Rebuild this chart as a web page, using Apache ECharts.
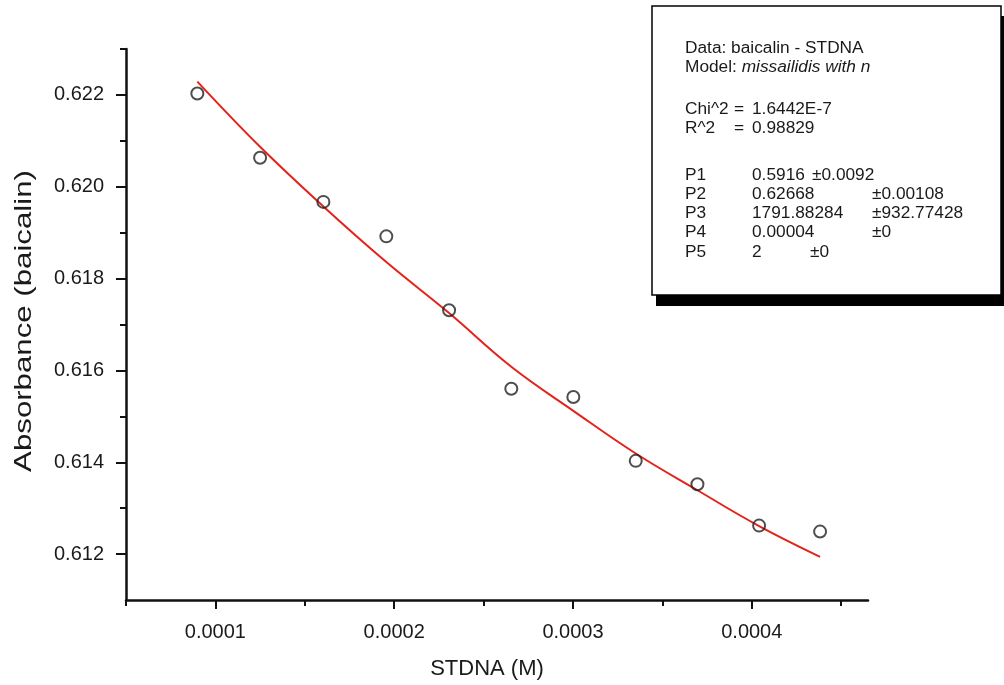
<!DOCTYPE html>
<html>
<head>
<meta charset="utf-8">
<script src="https://cdn.jsdelivr.net/npm/echarts@6/dist/echarts.min.js"></script>
<style>
  html, body { margin: 0; padding: 0; background: #ffffff; }
  #chart { width: 1004px; height: 685px; }
</style>
</head>
<body>
<div id="chart"></div>
<script>
// ---- data ----
const xData = [0.0000899, 0.000125, 0.0001604, 0.0001956, 0.0002307, 0.0002655, 0.0003002, 0.0003351, 0.0003696, 0.0004041, 0.0004382];
const yData = [0.62203, 0.62063, 0.61967, 0.61892, 0.61731, 0.61560, 0.61542, 0.61403, 0.61352, 0.61262, 0.61249];
const fitY  = [0.62229, 0.62087, 0.61957, 0.61836, 0.61725, 0.61608, 0.61512, 0.61419, 0.61339, 0.61261, 0.61194];

const xMajorTicks = [0.0001, 0.0002, 0.0003, 0.0004];
const xMinorTicks = [0.00005, 0.00015, 0.00025, 0.00035, 0.00045];
const yMajorTicks = [0.612, 0.614, 0.616, 0.618, 0.620, 0.622];
const yMinorTicks = [0.613, 0.615, 0.617, 0.619, 0.621, 0.623];

const xTitle = 'STDNA (M)';
const yTitle = 'Absorbance (baicalin)';

const boxHeader = ['Data: baicalin - STDNA', 'Model: '];
const boxModelItalic = 'missailidis with n';
const statNames = ['Chi^2', 'R^2'];
const statValues = ['1.6442E-7', '0.98829'];
const boxCol1 = ['P1', 'P2', 'P3', 'P4', 'P5'];
const boxCol2 = ['0.5916', '0.62668', '1791.88284', '0.00004', '2'];
const boxCol3 = ['±0.0092', '±0.00108', '±932.77428', '±0', '±0'];

// ---- chart ----
const chart = echarts.init(document.getElementById('chart'), null, { renderer: 'canvas' });

const scatterData = xData.map((x, i) => [x, yData[i]]);
const fitData = xData.map((x, i) => [x, fitY[i]]);

const FONT = '"Liberation Sans", Arial, Helvetica, sans-serif';
const INK = '#1a1a1a';
const BOX_FONT = 16;

function boxText(str, x, y, italicPart) {
  const el = {
    type: 'text',
    x: x, y: y,
    scaleX: 1.08,
    z: 20,
    style: {
      text: str,
      font: BOX_FONT + 'px ' + FONT,
      fill: INK,
      align: 'left', textAlign: 'left',
      verticalAlign: 'middle', textVerticalAlign: 'middle'
    }
  };
  if (italicPart) {
    el.style.text = '{n|' + str + '}{i|' + italicPart + '}';
    el.style.rich = {
      n: { font: BOX_FONT + 'px ' + FONT, fill: INK },
      i: { font: 'italic ' + BOX_FONT + 'px ' + FONT, fill: INK }
    };
  }
  return el;
}

const graphics = [
  // legend box shadow and box
  { type: 'rect', z: 10, shape: { x: 656, y: 16, width: 352, height: 290 }, style: { fill: '#000' } },
  { type: 'rect', z: 11, shape: { x: 652, y: 6, width: 349, height: 289 }, style: { fill: '#fff', stroke: '#000', lineWidth: 1.5 } },
  boxText(boxHeader[0], 685, 49),
  boxText(boxHeader[1], 685, 68, boxModelItalic)
];
const statY = [110, 129];
statNames.forEach((t, i) => {
  graphics.push(boxText(t, 685, statY[i]));
  graphics.push(boxText('=', 734, statY[i]));
  graphics.push(boxText(statValues[i], 752, statY[i]));
});
const pY = [176, 195, 214, 233, 253];
const col3X = [812, 872, 872, 872, 810];
boxCol1.forEach((t, i) => {
  graphics.push(boxText(t, 685, pY[i]));
  graphics.push(boxText(boxCol2[i], 752, pY[i]));
  graphics.push(boxText(boxCol3[i], col3X[i], pY[i]));
});
// axis titles
graphics.push({
  type: 'text', x: 487, y: 669, z: 20,
  style: { text: xTitle, font: '22px ' + FONT, fill: INK, align: 'center', textAlign: 'center', verticalAlign: 'middle', textVerticalAlign: 'middle' }
});
graphics.push({
  type: 'text', x: 24, y: 321, rotation: Math.PI / 2, scaleX: 1.3, z: 20,
  style: { text: yTitle, font: '24px ' + FONT, fill: INK, align: 'center', textAlign: 'center', verticalAlign: 'middle', textVerticalAlign: 'middle' }
});

const option = {
  backgroundColor: '#ffffff',
  animation: false,
  grid: { left: 126, right: 136, top: 49, bottom: 85, containLabel: false },
  xAxis: [
    {
      type: 'value', min: 0.00005, max: 0.000465, position: 'bottom',
      axisLine: { show: true, lineStyle: { color: '#111', width: 2.5 } },
      axisTick: { show: true, inside: false, length: 9, lineStyle: { color: '#111', width: 2 }, customValues: xMajorTicks },
      axisLabel: { show: true, margin: 22, fontSize: 20, fontFamily: FONT, color: INK, customValues: xMajorTicks, formatter: v => Number(v).toFixed(4) },
      splitLine: { show: false }
    },
    {
      type: 'value', min: 0.00005, max: 0.000465, position: 'bottom',
      axisLine: { show: false },
      axisTick: { show: true, inside: false, length: 6, lineStyle: { color: '#111', width: 2 }, customValues: xMinorTicks },
      axisLabel: { show: false },
      splitLine: { show: false }
    }
  ],
  yAxis: [
    {
      type: 'value', min: 0.611, max: 0.623, position: 'left',
      axisLine: { show: true, lineStyle: { color: '#111', width: 2.5 } },
      axisTick: { show: true, inside: false, length: 10, lineStyle: { color: '#111', width: 2 }, customValues: yMajorTicks },
      axisLabel: { show: true, margin: 22, fontSize: 20, fontFamily: FONT, color: INK, customValues: yMajorTicks, formatter: v => Number(v).toFixed(3) },
      splitLine: { show: false }
    },
    {
      type: 'value', min: 0.611, max: 0.623, position: 'left',
      axisLine: { show: false },
      axisTick: { show: true, inside: false, length: 6, lineStyle: { color: '#111', width: 2 }, customValues: yMinorTicks },
      axisLabel: { show: false },
      splitLine: { show: false }
    }
  ],
  series: [
    {
      name: 'fit', type: 'line', data: fitData, xAxisIndex: 0, yAxisIndex: 0,
      smooth: 0.4, showSymbol: false, symbol: 'none',
      lineStyle: { color: '#e3231a', width: 2 }, z: 3
    },
    {
      name: 'baicalin', type: 'scatter', data: scatterData, xAxisIndex: 0, yAxisIndex: 0,
      symbol: 'circle', symbolSize: 12,
      itemStyle: { color: 'rgba(255,255,255,0)', borderColor: '#222', borderWidth: 2 }, z: 4
    }
  ],
  graphic: graphics
};

chart.setOption(option);
</script>
</body>
</html>
